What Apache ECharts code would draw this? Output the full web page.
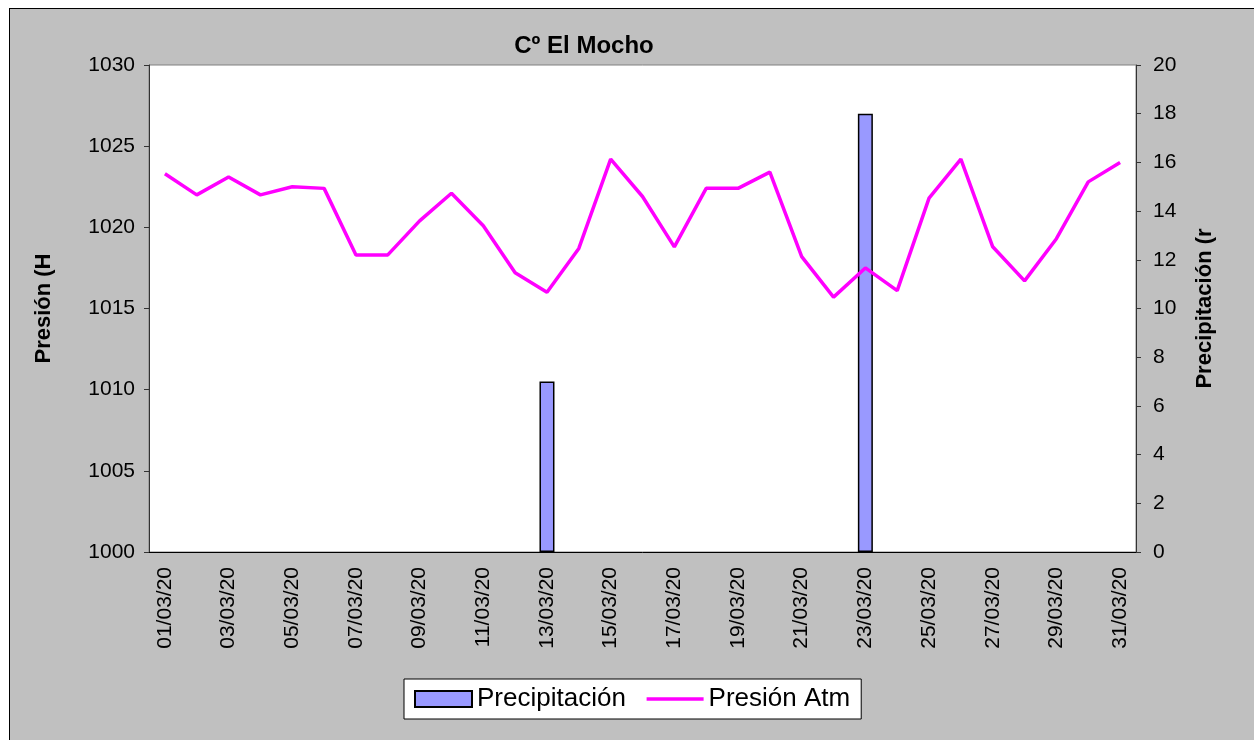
<!DOCTYPE html>
<html>
<head>
<meta charset="utf-8">
<script src="https://cdn.jsdelivr.net/npm/echarts@6/dist/echarts.min.js"></script>
<style>
  html, body { margin: 0; padding: 0; background: #fff; }
  #frame {
    position: absolute; left: 9px; top: 8px; width: 1245px; height: 732px;
    background: #c0c0c0; border-left: 1px solid #000; border-top: 1px solid #000;
  }
  #chart { position: absolute; left: 0; top: 0; width: 1254px; height: 740px; }
</style>
</head>
<body>
<div id="frame"></div>
<div id="chart"></div>
<script>
  // dias de marzo
  const dias = [
    '01/03/20', '02/03/20', '03/03/20', '04/03/20', '05/03/20', '06/03/20', '07/03/20', '08/03/20',
    '09/03/20', '10/03/20', '11/03/20', '12/03/20', '13/03/20', '14/03/20', '15/03/20', '16/03/20',
    '17/03/20', '18/03/20', '19/03/20', '20/03/20', '21/03/20', '22/03/20', '23/03/20', '24/03/20',
    '25/03/20', '26/03/20', '27/03/20', '28/03/20', '29/03/20', '30/03/20', '31/03/20',
  ];
  const precipitacion = [
    0, 0, 0, 0, 0, 0, 0, 0, 0, 0, 0, 0, 7, 0, 0, 0,
    0, 0, 0, 0, 0, 0, 18, 0, 0, 0, 0, 0, 0, 0, 0,
  ];
  const presion = [
    1023.3, 1022.0, 1023.1, 1022.0, 1022.5, 1022.4, 1018.3, 1018.3,
    1020.4, 1022.1, 1020.1, 1017.2, 1016.0, 1018.7, 1024.2, 1021.9,
    1018.8, 1022.4, 1022.4, 1023.4, 1018.2, 1015.7, 1017.5, 1016.1,
    1021.8, 1024.2, 1018.8, 1016.7, 1019.3, 1022.8, 1024.0,
  ];

  const font = 'Liberation Sans, Arial, sans-serif';
  const myChart = echarts.init(document.getElementById('chart'));
  myChart.setOption({
    animation: false,
    title: {
      text: 'Cº El Mocho',
      left: 579,
      top: 29,
      textAlign: 'center',
      textStyle: { fontFamily: font, fontSize: 24, fontWeight: 'bold', color: '#000' },
    },
    grid: {
      left: 149,
      right: 118,
      top: 65,
      bottom: 188,
      show: true,
      backgroundColor: '#fff',
      borderColor: '#808080',
      borderWidth: 1,
    },
    legend: {
      left: 404,
      top: 679,
      padding: [7, 11, 7, 10],
      itemWidth: 57,
      itemHeight: 16,
      itemGap: 19,
      backgroundColor: '#fff',
      borderColor: '#000',
      borderWidth: 1,
      borderRadius: 0,
      textStyle: { fontFamily: font, fontSize: 26, color: '#000' },
      data: [
        { name: 'Precipitación', icon: 'rect' },
        { name: 'Presión Atm', itemStyle: { opacity: 0 }, lineStyle: { width: 3.5 } },
      ],
    },
    xAxis: {
      type: 'category',
      data: dias,
      boundaryGap: true,
      axisLine: { lineStyle: { color: '#000' } },
      axisTick: { interval: 0, length: 5, lineStyle: { color: '#000' } },
      axisLabel: {
        interval: 1,
        rotate: 90,
        margin: 15,
        fontFamily: font,
        fontSize: 21,
        color: '#000',
      },
    },
    yAxis: [
      {
        type: 'value',
        min: 1000,
        max: 1030,
        interval: 5,
        name: 'Presión (H',
        nameLocation: 'middle',
        nameGap: 94,
        nameTextStyle: { fontFamily: font, fontSize: 22, fontWeight: 'bold', color: '#000' },
        splitLine: { show: false },
        axisLine: { show: true, lineStyle: { color: '#333' } },
        axisTick: { show: true, length: 5, lineStyle: { color: '#333' } },
        axisLabel: {
          margin: 14, fontFamily: font, fontSize: 21, color: '#000',
          formatter: (v) => String(v),
        },
      },
      {
        type: 'value',
        min: 0,
        max: 20,
        interval: 2,
        name: 'Precipitación (r',
        nameLocation: 'middle',
        nameGap: 58,
        nameTextStyle: { fontFamily: font, fontSize: 22, fontWeight: 'bold', color: '#000' },
        splitLine: { show: false },
        axisLine: { show: true, lineStyle: { color: '#333' } },
        axisTick: { show: true, length: 5, lineStyle: { color: '#333' } },
        axisLabel: { margin: 17, fontFamily: font, fontSize: 21, color: '#000' },
      },
    ],
    series: [
      {
        name: 'Precipitación',
        type: 'bar',
        yAxisIndex: 1,
        // dias sin lluvia no dibujan barra
        data: precipitacion.map((v) => (v === 0 ? '-' : v)),
        barWidth: 15,
        itemStyle: { color: '#9999ff', borderColor: '#000', borderWidth: 1.5 },
      },
      {
        name: 'Presión Atm',
        type: 'line',
        yAxisIndex: 0,
        data: presion,
        symbol: 'none',
        lineStyle: { color: '#ff00ff', width: 3.5 },
        itemStyle: { color: '#ff00ff' },
        z: 3,
      },
    ],
  });
</script>
</body>
</html>
